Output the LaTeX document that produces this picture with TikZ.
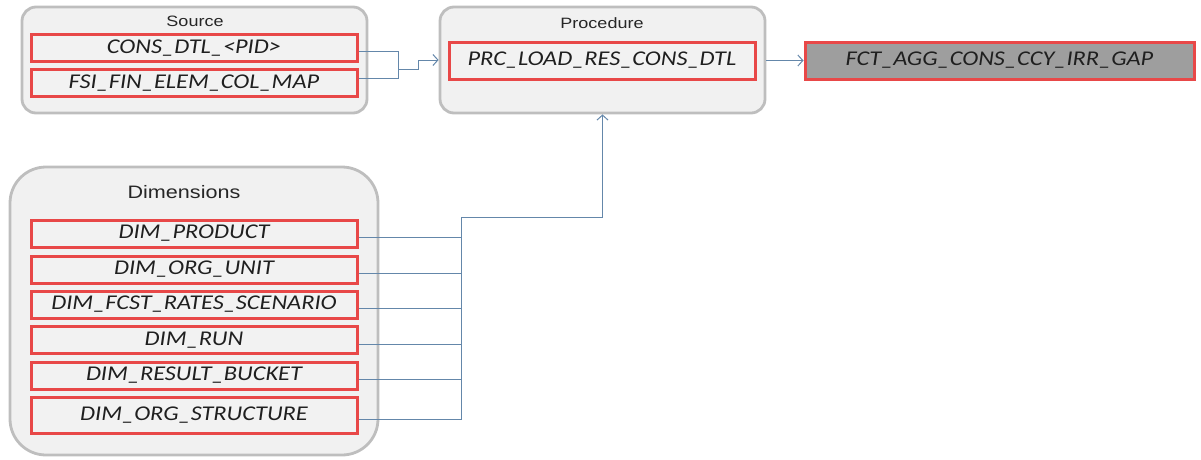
\documentclass[tikz,border=0pt]{standalone}
\usepackage{fontspec}
\setmainfont{Liberation Sans}
\newfontfamily\boxfont[FakeStretch=1.16]{Carlito}
\newfontfamily\ttlfont[FakeStretch=1.2]{Liberation Sans}
\usetikzlibrary{arrows.meta}
\definecolor{conn}{RGB}{100,135,170}
\definecolor{redb}{RGB}{232,72,72}
\definecolor{boxfill}{RGB}{242,242,242}
\definecolor{contb}{RGB}{190,190,190}
\definecolor{contfill}{RGB}{241,241,241}
\definecolor{fctfill}{RGB}{158,158,158}
\tikzset{
  cont/.style={draw=contb, fill=contfill, line width=2.8pt, rounded corners=14pt, inner sep=0pt},
  tbl/.style={draw=redb, fill=boxfill, line width=3pt, inner sep=0pt, minimum width=326pt, minimum height=27pt, font=\boxfont\itshape\fontsize{21}{21}\selectfont, text=black!88},
  ttl/.style={font=\ttlfont\fontsize{15}{15}\selectfont, text=black!85},
  link/.style={draw=conn, line width=1pt},
  arr/.style={link, -{Straight Barb[length=5pt,width=11pt]}}
}
\begin{document}
\begin{tikzpicture}[x=1pt,y=-1pt]
\useasboundingbox (0,0) rectangle (1201,459);
% containers
\node[cont, minimum width=345pt, minimum height=106pt] (src) at (194.5,60) {};
\node[cont, minimum width=325pt, minimum height=106pt] (proc) at (602.5,60) {};
\node[cont, rounded corners=36pt, minimum width=368pt, minimum height=288pt] (dims) at (194,311) {};
\node[ttl] (srct) at (195,21) {Source};
\node[ttl] (proct) at (602,23) {Procedure};
\node[ttl, font=\ttlfont\fontsize{18}{18}\selectfont] (dimst) at (184,192) {Dimensions};
% tables
\node[tbl] (cons) at (194,48) {CONS\_DTL\_<PID>};
\node[tbl] (fsi) at (194,83) {FSI\_FIN\_ELEM\_COL\_MAP};
\node[tbl, minimum width=306pt, minimum height=37pt] (prc) at (602,60.5) {PRC\_LOAD\_RES\_CONS\_DTL};
\node[tbl, fill=fctfill, minimum width=389pt, minimum height=37pt] (fct) at (999.5,60.5) {FCT\_AGG\_CONS\_CCY\_IRR\_GAP};
\node[tbl] (d1) at (194,233.5) {DIM\_PRODUCT};
\node[tbl] (d2) at (194,269.5) {DIM\_ORG\_UNIT};
\node[tbl] (d3) at (194,304.5) {DIM\_FCST\_RATES\_SCENARIO};
\node[tbl] (d4) at (194,340) {DIM\_RUN};
\node[tbl] (d5) at (194,375.5) {DIM\_RESULT\_BUCKET};
\node[tbl, minimum height=36pt] (d6) at (194,415.5) {DIM\_ORG\_STRUCTURE};
% connectors
\coordinate (j1) at (398,69);
\coordinate (j2) at (418,69);
\draw[link] ([yshift=-3pt]cons.east) -| (j1);
\draw[link] ([yshift=5pt]fsi.east) -| (j1);
\draw[arr] (j1) -- (j2) |- (proc.west);
\draw[arr] (proc.east |- prc.east) -- (fct.west);
\coordinate (bus) at (461,217);
\foreach \d in {d1,d2,d3,d4,d5,d6} { \draw[link] ([yshift=-4pt]\d.east) -- ([yshift=-4pt]\d.east -| bus); }
\draw[link] ([yshift=-4pt]d6.east -| bus) -- (bus);
\draw[arr] (bus) -| (proc.south);
\end{tikzpicture}
\end{document}
